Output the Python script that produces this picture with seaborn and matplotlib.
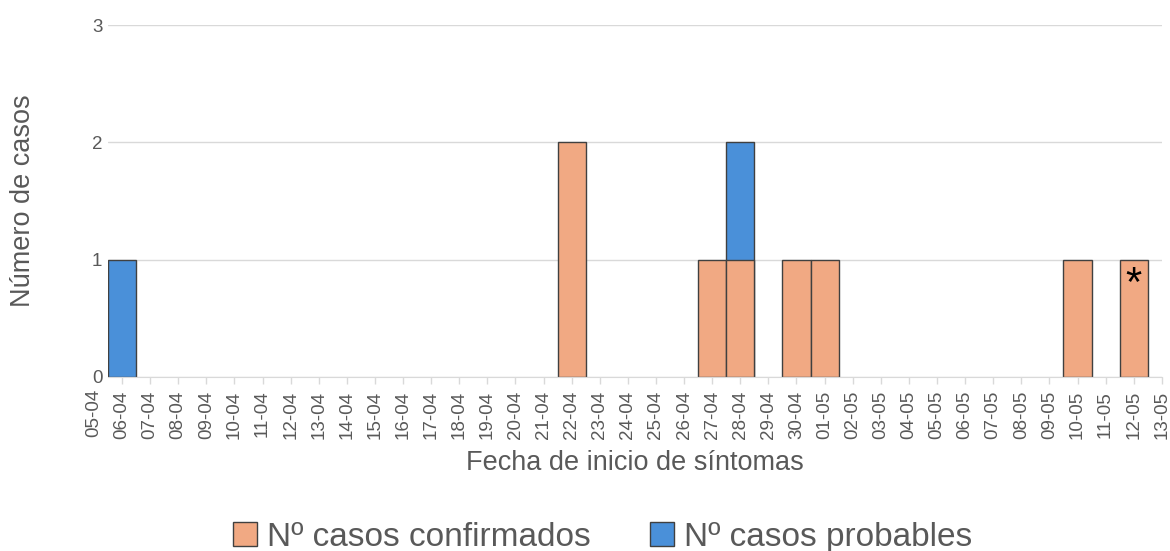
import pandas as pd
import matplotlib
matplotlib.use("Agg")
import matplotlib.pyplot as plt
from matplotlib.patches import Patch
import seaborn as sns

# Fechas del eje (05-04 a 13-05)
fechas = [f"{d:02d}-04" for d in range(5, 31)] + [f"{d:02d}-05" for d in range(1, 14)]

# Casos por fecha de inicio de síntomas
conf_fechas = ["22-04", "27-04", "28-04", "30-04", "01-05", "10-05", "12-05"]
conf_n = [2, 1, 1, 1, 1, 1, 1]
prob_fechas = ["06-04", "28-04"]
prob_n = [1, 1]

col_conf = "#F1A983"
col_prob = "#4A90D9"
gris = "#595959"

conf = pd.DataFrame({"fecha": conf_fechas, "n": conf_n})
prob = pd.DataFrame({"fecha": prob_fechas, "n": prob_n})

# total = confirmados + probables (se dibuja debajo, los confirmados encima)
tot = pd.concat([conf, prob]).groupby("fecha", as_index=False)["n"].sum()
tot = tot[tot["fecha"].isin(prob_fechas)]

sns.set_style("white")
plt.rcParams["font.family"] = ["Liberation Sans", "DejaVu Sans"]

fig = plt.figure(figsize=(11.7, 5.51), dpi=100)
ax = fig.add_axes([0.0923, 0.316, 0.9007, 0.6386])

sns.barplot(data=tot, x="fecha", y="n", order=fechas, color=col_prob, width=1,
            edgecolor="#404040", linewidth=1, saturation=1, errorbar=None, ax=ax)
sns.barplot(data=conf, x="fecha", y="n", order=fechas, color=col_conf, width=1,
            edgecolor="#404040", linewidth=1, saturation=1, errorbar=None, ax=ax)

ax.set_xticks(range(len(fechas)))
ax.set_xticklabels(fechas, rotation=90)
ax.set_xlim(0.5, len(fechas) - 1)
ax.set_ylim(0, 3)
ax.set_yticks([0, 1, 2, 3])
ax.grid(axis="y", color="#d9d9d9", linewidth=1)
ax.set_axisbelow(True)
for s in ["left", "right", "top"]:
    ax.spines[s].set_visible(False)
ax.spines["bottom"].set_color("#d9d9d9")

ax.tick_params(axis="x", colors="#d9d9d9", labelcolor=gris, labelsize=13.5,
               length=5, width=1, direction="out", bottom=True, pad=5)
ax.tick_params(axis="y", labelcolor=gris, labelsize=13.5, length=0, pad=4)

# etiqueta de 05-04, fuera del rango del eje
ax.annotate(fechas[0], xy=(0, 0), xycoords=("data", "axes fraction"),
            xytext=(0, -8.5), textcoords="offset points", rotation=90,
            ha="center", va="top", fontsize=13.5, color=gris, annotation_clip=False)

ax.text(fechas.index("12-05"), 0.78, "*", ha="center", va="center",
        fontsize=30, color="black")

ax.set_xlabel("Fecha de inicio de síntomas", fontsize=19.5, color=gris, labelpad=8)
ax.set_ylabel("Número de casos", fontsize=19.5, color=gris)
ax.yaxis.set_label_coords(-0.068, 0.5)

handles = [Patch(facecolor=col_conf, edgecolor="#404040"),
           Patch(facecolor=col_prob, edgecolor="#404040")]
fig.legend(handles, ["Nº casos confirmados", "Nº casos probables"],
           loc="center", bbox_to_anchor=(0.515, 0.025), ncol=2, frameon=False,
           fontsize=24, handlelength=0.7, handleheight=0.7, handletextpad=0.3,
           columnspacing=1.8, labelcolor=gris)

fig.savefig("out.png", dpi=100)
